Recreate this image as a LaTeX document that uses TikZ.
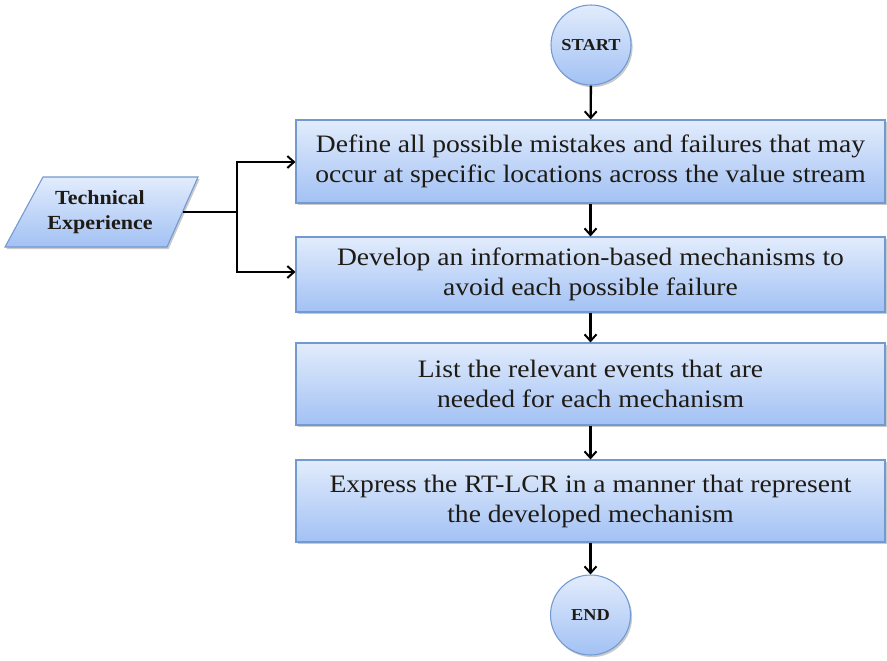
\documentclass[tikz,border=0pt]{standalone}
\usepackage{fontspec}
\setmainfont{Liberation Serif}[FakeStretch=1.1]
\usetikzlibrary{arrows.meta,shadows}
\definecolor{fillTop}{HTML}{E2ECFC}
\definecolor{fillBot}{HTML}{A2C1F4}
\definecolor{edgeBlue}{HTML}{7299D0}
\definecolor{inkText}{HTML}{1E1A14}
\tikzset{
  blueshape/.style={draw=edgeBlue, line width=0.8pt, top color=fillTop, bottom color=fillBot,
    drop shadow={shadow xshift=1.2pt, shadow yshift=-1.6pt, opacity=0.35, fill=black!60},
    text=inkText},
  stepbox/.style={blueshape, rectangle, inner sep=0pt, minimum width=441.75pt,
    align=center, font=\fontsize{18.8}{22.5}\selectfont},
  terminal/.style={blueshape, circle, inner sep=0pt, minimum size=60pt,
    font=\fontsize{12.5}{15}\selectfont\bfseries},
  flow/.style={line width=1.8pt, -{Straight Barb[length=5pt,width=9pt,line width=1.5pt]}},
  link/.style={line width=1.8pt}
}
\begin{document}
\begin{tikzpicture}[x=0.75pt,y=-0.75pt]
\useasboundingbox (0,0) rectangle (887,660);

% start / end terminals
\node[terminal] (start) at (591,45) {START};
\node[terminal] (end) at (590.5,615) {END};

% process steps
\node[stepbox, minimum height=62.25pt] (s1) at (590.5,161.5)
  {Define all possible mistakes and failures that may\\occur at specific locations across the value stream};
\node[stepbox, minimum height=56.25pt] (s2) at (590.5,274.5)
  {Develop an information-based mechanisms to\\avoid each possible failure};
\node[stepbox, minimum height=61.5pt] (s3) at (590.5,384)
  {List the relevant events that are\\needed for each mechanism};
\node[stepbox, minimum height=61.5pt] (s4) at (590.5,501)
  {Express the RT-LCR in a manner that represent\\the developed mechanism};

% input parallelogram
\path[blueshape] (5,247) -- (167,247) -- (198,177) -- (43,177) -- cycle;
\node[align=center, text=inkText, font=\fontsize{15}{19}\selectfont\bfseries] (tech) at (100,212)
  {Technical\\Experience};
\coordinate (techR) at (183,212);
\coordinate (fork) at (237,212);
\coordinate (forkTop) at (237,162);
\coordinate (forkBot) at (237,272);

% connectors
\draw[flow] (start) -- (s1);
\draw[flow] (s1) -- (s2);
\draw[flow] (s2) -- (s3);
\draw[flow] (s3) -- (s4);
\draw[flow] (s4) -- (end);
\draw[link] (techR) -- (fork);
\draw[flow] (forkBot) |- (forkTop) -- (forkTop -| s1.west);
\draw[flow] (fork) -- (forkBot) -- (forkBot -| s2.west);
\end{tikzpicture}
\end{document}
